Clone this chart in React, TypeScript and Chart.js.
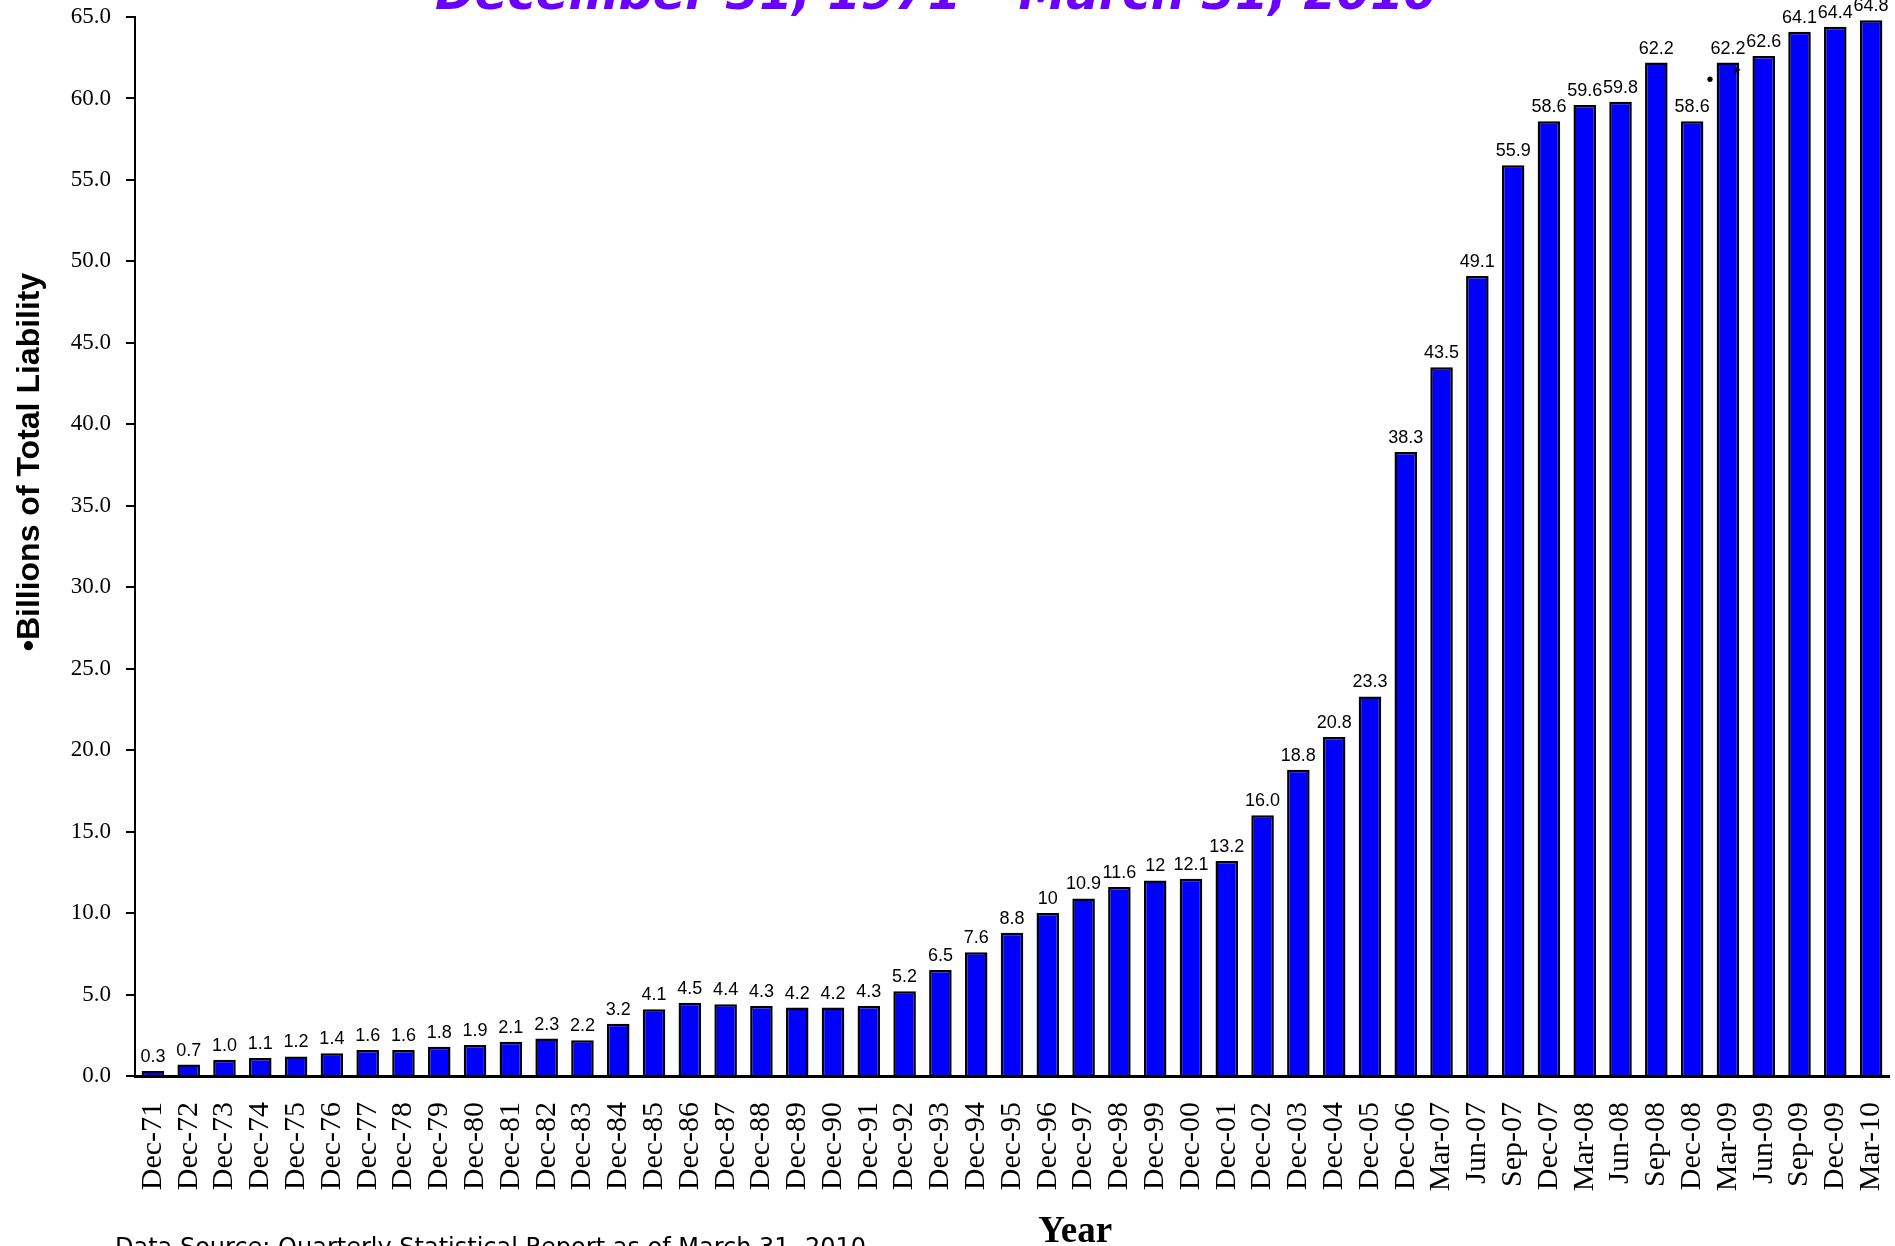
import React, { useEffect, useRef } from "react";
import { Chart, registerables } from "chart.js";

Chart.register(...registerables);

const categories = [
  "Dec-71", "Dec-72", "Dec-73", "Dec-74", "Dec-75", "Dec-76", "Dec-77", "Dec-78", "Dec-79", "Dec-80",
  "Dec-81", "Dec-82", "Dec-83", "Dec-84", "Dec-85", "Dec-86", "Dec-87", "Dec-88", "Dec-89", "Dec-90",
  "Dec-91", "Dec-92", "Dec-93", "Dec-94", "Dec-95", "Dec-96", "Dec-97", "Dec-98", "Dec-99", "Dec-00",
  "Dec-01", "Dec-02", "Dec-03", "Dec-04", "Dec-05", "Dec-06", "Mar-07", "Jun-07", "Sep-07", "Dec-07",
  "Mar-08", "Jun-08", "Sep-08", "Dec-08", "Mar-09", "Jun-09", "Sep-09", "Dec-09", "Mar-10",
];

const liability = [
  0.3, 0.7, 1.0, 1.1, 1.2, 1.4, 1.6, 1.6, 1.8, 1.9,
  2.1, 2.3, 2.2, 3.2, 4.1, 4.5, 4.4, 4.3, 4.2, 4.2,
  4.3, 5.2, 6.5, 7.6, 8.8, 10, 10.9, 11.6, 12, 12.1,
  13.2, 16.0, 18.8, 20.8, 23.3, 38.3, 43.5, 49.1, 55.9, 58.6,
  59.6, 59.8, 62.2, 58.6, 62.2, 62.6, 64.1, 64.4, 64.8,
];

const valueLabels = [
  "0.3", "0.7", "1.0", "1.1", "1.2", "1.4", "1.6", "1.6", "1.8", "1.9",
  "2.1", "2.3", "2.2", "3.2", "4.1", "4.5", "4.4", "4.3", "4.2", "4.2",
  "4.3", "5.2", "6.5", "7.6", "8.8", "10", "10.9", "11.6", "12", "12.1",
  "13.2", "16.0", "18.8", "20.8", "23.3", "38.3", "43.5", "49.1", "55.9", "58.6",
  "59.6", "59.8", "62.2", "58.6", "62.2", "62.6", "64.1", "64.4", "64.8",
];

const yMin = 0;
const yMax = 65;
const yStep = 5;

const titleText = "December 31, 1971 \u2013 March 31, 2010";
const yAxisTitle = "\u2022Billions of Total Liability";
const xAxisTitle = "Year";
const footerText = "Data Source: Quarterly Statistical Report as of March 31, 2010";

// small annotation marks near Dec-08 / Mar-09 (category position, value)
const markerPositions = [43.5, 44.25];
const markerValues = [61.1, 61.4];
const markerTexts = ["\u2022", "*"];

const W = 1895;
const H = 1246;

const decorations = {
  id: "decorations",
  afterDatasetsDraw(chart: any) {
    const ctx = chart.ctx;
    const meta = chart.getDatasetMeta(0);
    const xs = chart.scales.x;
    const ys = chart.scales.y;
    ctx.save();
    ctx.fillStyle = "#000000";
    ctx.font = "18px 'Liberation Sans', Arial, sans-serif";
    ctx.textAlign = "center";
    ctx.textBaseline = "alphabetic";
    meta.data.forEach((bar: any, i: number) => {
      ctx.fillText(valueLabels[i], bar.x, bar.y - 9);
    });
    ctx.font = "20px 'Liberation Sans', Arial, sans-serif";
    ctx.textBaseline = "middle";
    markerTexts.forEach((t, i) => {
      ctx.fillText(t, xs.getPixelForValue(markerPositions[i]), ys.getPixelForValue(markerValues[i]));
    });
    ctx.restore();
  },
  afterDraw(chart: any) {
    const ctx = chart.ctx;
    const area = chart.chartArea;
    ctx.save();
    // main title (partly above the page)
    ctx.fillStyle = "#6B00FF";
    ctx.font = "italic bold 48px 'DejaVu Sans', Verdana, sans-serif";
    ctx.textAlign = "center";
    ctx.textBaseline = "alphabetic";
    ctx.fillText(titleText, 936, 9);
    // y axis title
    ctx.fillStyle = "#000000";
    ctx.font = "bold 32px 'Liberation Sans', Arial, sans-serif";
    ctx.translate(30, 462);
    ctx.rotate(-Math.PI / 2);
    ctx.textAlign = "center";
    ctx.textBaseline = "middle";
    ctx.fillText(yAxisTitle, 0, 0);
    ctx.setTransform(1, 0, 0, 1, 0, 0);
    // x axis title
    ctx.font = "bold 37px 'Liberation Serif', 'Times New Roman', serif";
    ctx.textAlign = "center";
    ctx.textBaseline = "alphabetic";
    ctx.fillText(xAxisTitle, area.left + (area.right - area.left) * 0.536, 1242);
    // footer
    ctx.font = "24px 'DejaVu Sans', Verdana, sans-serif";
    ctx.textAlign = "left";
    ctx.textBaseline = "top";
    ctx.fillText(footerText, 115, 1237);
    ctx.restore();
  },
};

export default function App() {
  const canvasRef = useRef<HTMLCanvasElement | null>(null);

  useEffect(() => {
    document.body.style.margin = "0";
    document.body.style.overflow = "hidden";
    const canvas = canvasRef.current;
    if (!canvas) return;
    const chart = new Chart(canvas, {
      type: "bar",
      data: {
        labels: categories,
        datasets: [
          {
            data: liability,
            backgroundColor: "#0000FF",
            borderColor: "#000000",
            borderWidth: 2.5,
            categoryPercentage: 1,
            barPercentage: 0.63,
          },
        ],
      },
      options: {
        animation: false,
        responsive: false,
        devicePixelRatio: 1,
        layout: { padding: { left: 0, right: 6, top: 17, bottom: 0 } },
        plugins: {
          legend: { display: false },
          title: { display: false },
          tooltip: { enabled: false },
        },
        scales: {
          x: {
            type: "category",
            offset: true,
            grid: { display: false, drawTicks: false },
            border: { display: true, color: "#000000", width: 3, z: 1 },
            ticks: {
              autoSkip: false,
              maxRotation: 90,
              minRotation: 90,
              padding: 26,
              color: "#000000",
              font: { family: "'Liberation Serif', 'Times New Roman', serif", size: 30 },
            },
            afterFit(scale: any) {
              scale.height = 170;
              scale.paddingLeft = 0;
              scale.paddingRight = 0;
              scale.paddingTop = 0;
              scale.paddingBottom = 0;
            },
          },
          y: {
            min: yMin,
            max: yMax,
            grid: {
              display: true,
              drawOnChartArea: false,
              drawTicks: true,
              tickLength: 9,
              color: "#000000",
              lineWidth: 2,
            },
            border: { display: true, color: "#000000", width: 2, z: 1 },
            ticks: {
              stepSize: yStep,
              padding: 15,
              color: "#000000",
              font: { family: "'Liberation Serif', 'Times New Roman', serif", size: 23 },
              callback: (v: any) => Number(v).toFixed(1),
            },
            afterFit(scale: any) {
              scale.width = 135;
              scale.paddingLeft = 0;
              scale.paddingRight = 0;
              scale.paddingTop = 0;
              scale.paddingBottom = 0;
            },
          },
        },
      },
      plugins: [decorations],
    });
    return () => chart.destroy();
  }, []);

  return (
    <div style={{ width: W, height: H, overflow: "hidden", background: "#ffffff" }}>
      <canvas ref={canvasRef} width={W} height={H} style={{ display: "block", width: W, height: H }} />
    </div>
  );
}
